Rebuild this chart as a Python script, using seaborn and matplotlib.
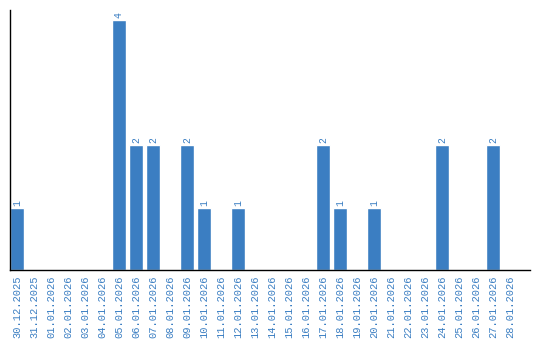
import matplotlib
matplotlib.use("Agg")
import matplotlib.pyplot as plt
import seaborn as sns
import pandas as pd

dates = ["30.12.2025", "31.12.2025", "01.01.2026", "02.01.2026", "03.01.2026",
         "04.01.2026", "05.01.2026", "06.01.2026", "07.01.2026", "08.01.2026",
         "09.01.2026", "10.01.2026", "11.01.2026", "12.01.2026", "13.01.2026",
         "14.01.2026", "15.01.2026", "16.01.2026", "17.01.2026", "18.01.2026",
         "19.01.2026", "20.01.2026", "21.01.2026", "22.01.2026", "23.01.2026",
         "24.01.2026", "25.01.2026", "26.01.2026", "27.01.2026", "28.01.2026"]
counts = [1, 0, 0, 0, 0, 0, 4, 2, 2, 0, 2, 1, 0, 1, 0,
          0, 0, 0, 2, 1, 0, 1, 0, 0, 0, 2, 0, 0, 2, 0]

color = "#3b7ec2"
df = pd.DataFrame({"date": dates, "count": counts})

sns.set_style("white")
plt.rcParams["font.family"] = ["Liberation Mono", "DejaVu Sans Mono"]

fig = plt.figure(figsize=(5.4, 3.4), dpi=100)
ax = fig.add_axes([10/540, 1 - 270/340, 520/540, 260/340])
sns.barplot(data=df, x="date", y="count", order=dates, color=color,
            saturation=1, width=0.82, ax=ax)

for i, v in enumerate(counts):
    if v > 0:
        ax.text(i, v + 0.03, str(v), rotation=90, ha="center", va="bottom",
                color=color, fontsize=7)

ax.set_xlim(-0.41, 30.18)
ax.set_ylim(0, 4.16)
ax.set_xlabel("")
ax.set_ylabel("")
ax.set_yticks([])
ax.tick_params(axis="x", length=0, pad=4, labelsize=7.5, labelcolor=color,
               labelrotation=90)
for s in ["top", "right"]:
    ax.spines[s].set_visible(False)
for s in ["left", "bottom"]:
    ax.spines[s].set_color("black")
    ax.spines[s].set_linewidth(1)

fig.savefig("out.png", dpi=100)
